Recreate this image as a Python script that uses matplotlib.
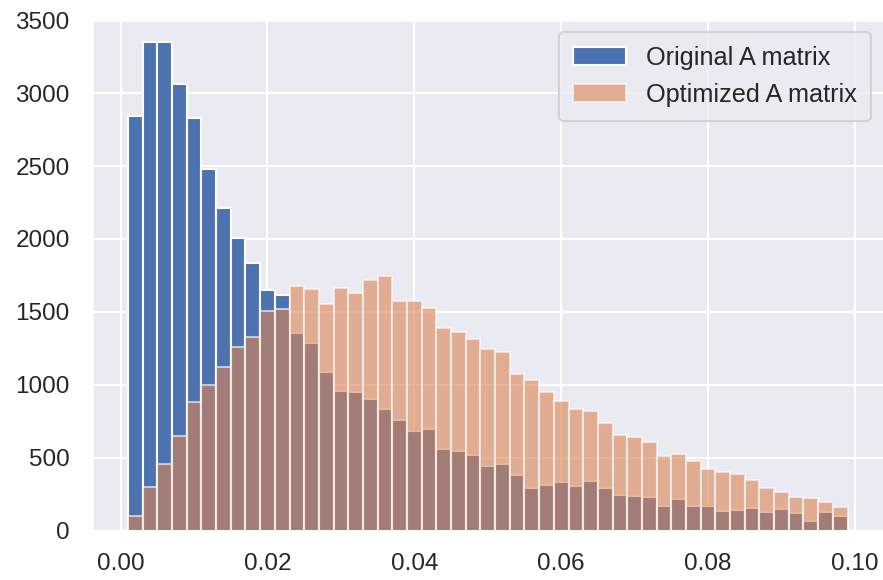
import numpy as np
import matplotlib
matplotlib.use("Agg")
import matplotlib.pyplot as plt
import seaborn as sns

# Histogram bin edges (49 bins)
bin_edges = np.linspace(0.001, 0.099, 50)

original_counts = [2840, 3350, 3350, 3060, 2830, 2480, 2210, 2005, 1835, 1650,
                   1615, 1355, 1285, 1090, 960, 953, 905, 833, 760, 680,
                   696, 559, 543, 516, 443, 454, 379, 292, 313, 331,
                   306, 338, 294, 244, 240, 233, 167, 219, 169, 165,
                   133, 140, 155, 124, 146, 119, 64, 128, 101]

optimized_counts = [100, 295, 454, 648, 880, 1001, 1122, 1259, 1330, 1505,
                    1521, 1674, 1656, 1553, 1663, 1627, 1721, 1747, 1576, 1576,
                    1528, 1387, 1364, 1316, 1248, 1225, 1075, 1029, 947, 887,
                    835, 817, 737, 655, 641, 605, 511, 523, 477, 420,
                    399, 388, 347, 292, 265, 233, 222, 194, 160]

labels = ["Original A matrix", "Optimized A matrix"]
x_ticks = [0.00, 0.02, 0.04, 0.06, 0.08, 0.10]
y_ticks = [0, 500, 1000, 1500, 2000, 2500, 3000, 3500]

sns.set_theme(context="talk", style="darkgrid")
plt.rcParams['font.family'] = ['Liberation Sans', 'DejaVu Sans']

fig = plt.figure(figsize=(8.83, 5.80), dpi=100)
ax = fig.add_axes([92 / 883, (580 - 530.5) / 580, (883.5 - 92) / 883, (530.5 - 19.5) / 580])

left = bin_edges[:-1]
ax.hist(left, bins=bin_edges, weights=original_counts, label=labels[0],
        color="#4C72B0", edgecolor="white", linewidth=1.5)
ax.hist(left, bins=bin_edges, weights=optimized_counts, label=labels[1],
        color="#DD8452", alpha=0.6, edgecolor="white", linewidth=1.5)

ax.set_xticks(x_ticks)
ax.set_xticklabels([f"{v:.2f}" for v in x_ticks])
ax.set_yticks(y_ticks)
ax.tick_params(axis="both", labelsize=17.5, pad=16, length=0)
ax.set_xlim(-0.0039, 0.1039)
ax.set_ylim(0, 3505)
ax.legend(loc="upper right", fontsize=18.2, borderaxespad=0.5, borderpad=0.55,
          handlelength=2.1)

fig.savefig("out.png", dpi=100)
